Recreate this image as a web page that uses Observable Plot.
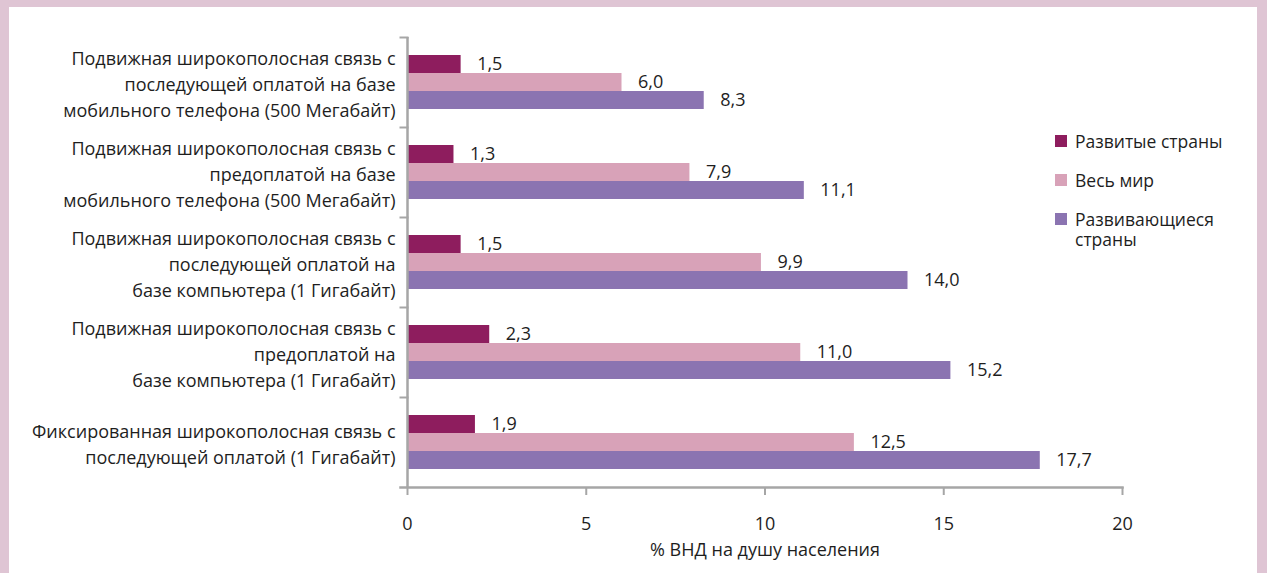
<!DOCTYPE html>
<html>
<head>
<meta charset="utf-8">
<script src="https://cdn.jsdelivr.net/npm/d3@7"></script>
<script src="https://cdn.jsdelivr.net/npm/@observablehq/plot@0.6"></script>
<style>
  html, body { margin: 0; padding: 0; }
  body { width: 1267px; height: 573px; background: #dfc5d4; position: relative; overflow: hidden; font-family: "Open Sans", sans-serif; }
  #panel { position: absolute; left: 9px; top: 7px; width: 1248px; height: 566px; background: #ffffff; }
  #legend { position: absolute; left: 1046px; top: 124px; font-size: 17.5px; color: #1e1e1e; line-height: 20px; }
  .item { display: flex; align-items: flex-start; margin-bottom: 19px; }
  .sw { width: 12px; height: 12px; margin-top: 4px; margin-right: 8px; flex: none; }
</style>
</head>
<body>
<div id="panel"></div>
<script>
const categories = [
  "Подвижная широкополосная связь с\nпоследующей оплатой на базе\nмобильного телефона (500 Мегабайт)",
  "Подвижная широкополосная связь с\nпредоплатой на базе\nмобильного телефона (500 Мегабайт)",
  "Подвижная широкополосная связь с\nпоследующей оплатой на\nбазе компьютера (1 Гигабайт)",
  "Подвижная широкополосная связь с\nпредоплатой на\nбазе компьютера (1 Гигабайт)",
  "Фиксированная широкополосная связь с\nпоследующей оплатой (1 Гигабайт)"
];
const seriesNames = ["Развитые страны", "Весь мир", "Развивающиеся\nстраны"];
const developed = [1.5, 1.3, 1.5, 2.3, 1.9];
const world = [6.0, 7.9, 9.9, 11.0, 12.5];
const developing = [8.3, 11.1, 14.0, 15.2, 17.7];
const colors = ["#8e1d5e", "#d8a2b8", "#8b74b1"];
const xTicks = [0, 5, 10, 15, 20];
const xLabel = "% ВНД на душу населения";

const seriesValues = [developed, world, developing];
const data = [];
categories.forEach((c, i) => {
  seriesNames.forEach((s, j) => data.push({category: c, series: s, value: seriesValues[j][i]}));
});

const W = 1248, H = 566, mL = 398, mR = 135, mT = 28, mB = 84;
const axisColor = "#a6a6a6";
const textColor = "#1e1e1e";
const fs = 18;
const fmt = d => d.toFixed(1).replace(".", ",");

const chart = Plot.plot({
  width: W, height: H,
  marginLeft: mL, marginRight: mR, marginTop: mT, marginBottom: mB,
  style: {fontFamily: "Open Sans, sans-serif", fontSize: fs + "px", color: textColor, background: "transparent"},
  x: {domain: [0, 20], axis: null},
  y: {domain: seriesNames, paddingInner: 0, paddingOuter: 0.87, axis: null},
  fy: {domain: categories, padding: 0, axis: null},
  color: {domain: seriesNames, range: colors},
  marks: [
    Plot.barX(data, {fy: "category", y: "series", x: "value", fill: "series"}),
    Plot.text(data, {fy: "category", y: "series", x: "value", text: d => fmt(d.value), textAnchor: "start", dx: 16, fill: textColor, fontSize: fs}),
    Plot.ruleX([0], {stroke: axisColor, strokeWidth: 2.5}),
    Plot.frame({anchor: "top", insetLeft: -7, insetRight: W - mL - mR, stroke: axisColor, strokeWidth: 2}),
    Plot.frame({anchor: "bottom", facetAnchor: "bottom", insetLeft: -7, stroke: axisColor, strokeWidth: 2.5}),
    Plot.axisFy({anchor: "left", tickSize: 0, tickPadding: 12, label: null, fontSize: fs, lineHeight: 26 / fs, textAnchor: "end", fill: textColor}),
    Plot.axisX({ticks: xTicks, tickSize: 8, tickPadding: 22, stroke: axisColor, strokeWidth: 2, fontSize: fs, fill: textColor,
      label: xLabel, labelAnchor: "center", labelArrow: "none", labelOffset: 68})
  ]
});
document.getElementById("panel").appendChild(chart);

const legend = document.createElement("div");
legend.id = "legend";
seriesNames.forEach((s, j) => {
  const item = document.createElement("div");
  item.className = "item";
  const sw = document.createElement("span");
  sw.className = "sw";
  sw.style.background = colors[j];
  const t = document.createElement("span");
  t.style.whiteSpace = "pre";
  t.textContent = s;
  item.appendChild(sw); item.appendChild(t);
  legend.appendChild(item);
});
document.getElementById("panel").appendChild(legend);
</script>
</body>
</html>
